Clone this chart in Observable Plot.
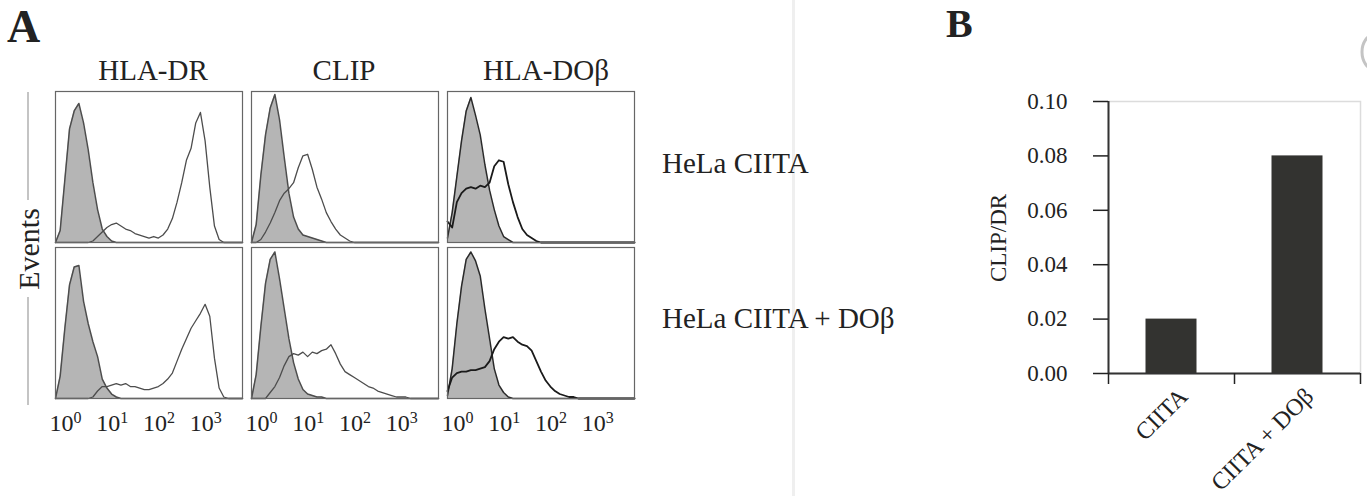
<!DOCTYPE html>
<html><head><meta charset="utf-8">
<script src="https://cdn.jsdelivr.net/npm/d3@7"></script>
<script src="https://cdn.jsdelivr.net/npm/@observablehq/plot@0.6"></script>
<style>
html,body{margin:0;padding:0;background:#fff;}
#root{position:relative;width:1367px;height:496px;overflow:hidden;font-family:"Liberation Serif","Times New Roman",serif;color:#222;}
#root svg{position:absolute;}
</style></head><body><div id="root"></div>
<script>
// ---------- DATA ----------
// histogram bin positions, in decades (log10 of fluorescence)
const bins = [0.0,0.1,0.2,0.3,0.4,0.5,0.6,0.7,0.8,0.9,1.0,1.1,1.2,1.3,1.4,1.5,1.6,1.7,1.8,1.9,2.0,2.1,2.2,2.3,2.4,2.5,2.6,2.7,2.8,2.9,3.0,3.1,3.2,3.3,3.4,3.5,3.6,3.7,3.8,3.9,4.0];
const markers = ["HLA-DR", "CLIP", "HLA-DOβ"];
const cellLines = ["HeLa CIITA", "HeLa CIITA + DOβ"];
const xTickExponents = [0, 1, 2, 3];

// events (% of max) — isotype control (filled) and specific stain (open)
const isoDR_CIITA    = [0,8,42,76,88,93,80,62,40,22, 9,4,1,0,0,0,0,0,0,0, 0,0,0,0,0,0,0,0,0,0, 0,0,0,0,0,0,0,0,0,0, 0];
const stainDR_CIITA  = [0,0,0,0,0,0,0,0,1,4, 7,10,12,13,11,9,8,6,5,4, 3,4,3,5,9,16,27,40,55,63, 80,87,68,37,11,2,0,0,0,0, 0];
const isoCLIP_CIITA  = [0,12,45,72,90,99,82,57,33,17, 9,5,4,3,2,1,0,0,0,0, 0,0,0,0,0,0,0,0,0,0, 0,0,0,0,0,0,0,0,0,0, 0];
const stainCLIP_CIITA= [0,0,2,7,13,20,28,33,36,40, 50,58,59,49,37,29,20,14,9,5, 3,1,0,0,0,0,0,0,0,0, 0,0,0,0,0,0,0,0,0,0, 0];
const isoDO_CIITA    = [3,20,44,68,88,97,85,72,52,35, 22,11,4,2,0,0,0,0,0,0, 0,0,0,0,0,0,0,0,0,0, 0,0,0,0,0,0,0,0,0,0, 0];
const stainDO_CIITA  = [14,10,27,33,36,37,36,38,37,40, 51,55,54,39,27,17,9,5,3,1, 0,0,0,0,0,0,0,0,0,0, 0,0,0,0,0,0,0,0,0,0, 0];
const isoDR_DOB      = [0,15,47,76,88,89,65,50,38,28, 13,7,3,1,0,0,0,0,0,0, 0,0,0,0,0,0,0,0,0,0, 0,0,0,0,0,0,0,0,0,0, 0];
const stainDR_DOB    = [0,0,0,0,0,0,0,0,1,5, 8,8,9,10,9,10,8,8,7,6, 6,7,8,10,13,17,25,33,40,47, 52,57,63,55,27,7,1,0,0,0, 0];
const isoCLIP_DOB    = [0,16,48,77,93,98,80,60,40,24, 13,6,3,2,1,1,0,0,0,0, 0,0,0,0,0,0,0,0,0,0, 0,0,0,0,0,0,0,0,0,0, 0];
const stainCLIP_DOB  = [0,0,0,0,4,8,14,22,28,30, 29,31,28,31,30,32,33,36,30,23, 18,16,14,12,10,8,7,5,4,3, 2,1,1,1,0,0,0,0,0,0, 0];
const isoDO_DOB      = [2,20,50,75,93,98,92,82,60,40, 20,9,4,1,0,0,0,0,0,0, 0,0,0,0,0,0,0,0,0,0, 0,0,0,0,0,0,0,0,0,0, 0];
const stainDO_DOB    = [5,14,17,18,18,19,19,20,21,25, 33,38,41,40,41,38,36,35,32,25, 18,12,8,5,3,2,1,1,0,0, 0,0,0,0,0,0,0,0,0,0, 0];

// panel B
const barCategories = ["CIITA", "CIITA + DOβ"];
const barValues = [0.02, 0.08];
const yTicks = [0, 0.02, 0.04, 0.06, 0.08, 0.10];

// ---------- LAYOUT ----------
const root = document.getElementById("root");
const FONT = '"Liberation Serif","Times New Roman",serif';
const NS = "http://www.w3.org/2000/svg";

const panels = [
  {col:0,row:0,iso:isoDR_CIITA,stain:stainDR_CIITA},
  {col:1,row:0,iso:isoCLIP_CIITA,stain:stainCLIP_CIITA},
  {col:2,row:0,iso:isoDO_CIITA,stain:stainDO_CIITA},
  {col:0,row:1,iso:isoDR_DOB,stain:stainDR_DOB},
  {col:1,row:1,iso:isoCLIP_DOB,stain:stainCLIP_DOB},
  {col:2,row:1,iso:isoDO_DOB,stain:stainDO_DOB}
];
const boxLeft = [55, 251, 447], boxTop = [91, 247], W = 187, H = 151;

for (const p of panels) {
  const rows = bins.map((b, i) => ({x: 10 ** b, iso: p.iso[i], stain: p.stain[i]}));
  const bottom = p.row === 1;
  const mb = bottom ? 44 : 1;
  const dark = p.col === 2;
  const marks = [
    Plot.areaY(rows, {x: "x", y: "iso", fill: "#b5b5b5"}),
    Plot.lineY(rows, {x: "x", y: "iso", stroke: dark ? "#2a2a2a" : "#4d4d4d", strokeWidth: 1.5}),
    Plot.lineY(rows, {x: "x", y: "stain", stroke: dark ? "#1a1a1a" : "#4d4d4d", strokeWidth: dark ? 1.8 : 1.3}),
    Plot.frame({stroke: "#666", strokeWidth: 1.2})
  ];
  if (bottom) marks.push(Plot.axisX({
    ticks: xTickExponents.map(e => 10 ** e), tickSize: 0, tickPadding: 15,
    textAnchor: "start", dx: -6, label: null, fill: "#222", fontSize: 24,
    tickFormat: d => "10^" + Math.round(Math.log10(d))
  }));
  const svg = Plot.plot({
    width: W + 2, height: H + 1 + mb,
    marginLeft: 1, marginRight: 1, marginTop: 1, marginBottom: mb,
    x: {type: "log", domain: [1, 1e4], axis: bottom ? undefined : null, label: null},
    y: {domain: [0, 101], axis: null},
    style: {fontFamily: FONT, fontSize: "24px", background: "transparent", overflow: "visible"},
    marks
  });
  svg.querySelectorAll('g[aria-label="x-axis tick label"] text').forEach(t => {
    const [base, exp] = t.textContent.split("^");
    t.textContent = base;
    const sup = document.createElementNS(NS, "tspan");
    sup.setAttribute("dy", "-0.45em");
    sup.setAttribute("font-size", "16px");
    sup.textContent = exp;
    t.appendChild(sup);
  });
  svg.style.left = (boxLeft[p.col] - 1) + "px";
  svg.style.top = (boxTop[p.row] - 1) + "px";
  root.appendChild(svg);
}

// ---------- PANEL B ----------
const barRows = barCategories.map((c, i) => ({category: c, value: barValues[i], i}));
const bsvg = Plot.plot({
  width: 407, height: 406,
  marginLeft: 148, marginTop: 11, marginRight: 7, marginBottom: 123,
  x: {domain: [0, 2], label: null},
  y: {domain: [0, 0.1], label: null},
  style: {fontFamily: FONT, fontSize: "23px", background: "transparent", overflow: "visible", color: "#222"},
  marks: [
    Plot.frame({stroke: "#dcdcdc", strokeWidth: 1.5}),
    Plot.rect(barRows, {x1: d => d.i, x2: d => d.i + 1, y1: () => 0, y2: "value", insetLeft: 37.5, insetRight: 37.5, fill: "#333330"}),
    Plot.ruleX([0], {stroke: "#333", strokeWidth: 2}),
    Plot.ruleY([0], {stroke: "#333", strokeWidth: 2}),
    Plot.axisY({ticks: yTicks, tickSize: 15, tickPadding: 26, tickFormat: d3.format(".2f"), label: null, strokeWidth: 1.5}),
    Plot.axisX({ticks: [0, 1, 2], tickSize: 11, tickFormat: () => "", label: null, strokeWidth: 1.5}),
    Plot.text(barRows, {x: d => d.i + 0.5, y: () => 0, text: "category", rotate: -45, textAnchor: "end", dx: 12, dy: 19, fontSize: 24, fill: "#222"})
  ]
});
bsvg.style.left = "960px";
bsvg.style.top = "90px";
root.appendChild(bsvg);

// ---------- TEXT OVERLAY ----------
const ov = document.createElementNS(NS, "svg");
ov.setAttribute("width", 1367); ov.setAttribute("height", 496);
ov.style.left = "0px"; ov.style.top = "0px";
ov.setAttribute("font-family", FONT);
ov.setAttribute("fill", "#222");
function txt(s, attrs) {
  const t = document.createElementNS(NS, "text");
  for (const k in attrs) t.setAttribute(k, attrs[k]);
  t.textContent = s;
  ov.appendChild(t);
}
function el(name, attrs) {
  const e = document.createElementNS(NS, name);
  for (const k in attrs) e.setAttribute(k, attrs[k]);
  ov.appendChild(e);
}
// scan artifacts
el("rect", {x: 792, y: 0, width: 3, height: 496, fill: "#efefef"});
el("ellipse", {cx: 1374, cy: 52, rx: 12, ry: 17, fill: "none", stroke: "#c4c4c4", "stroke-width": 3});

txt("A", {x: 7, y: 42, "font-size": 46, "font-weight": "bold"});
txt("B", {x: 946, y: 37, "font-size": 40, "font-weight": "bold"});
const titleX = [153, 344, 546];
markers.forEach((m, i) => txt(m, {x: titleX[i], y: 80, "font-size": 29, "text-anchor": "middle"}));
const rowY = [173, 328];
cellLines.forEach((c, i) => txt(c, {x: 662, y: rowY[i], "font-size": 29}));
txt("Events", {transform: "translate(39,249) rotate(-90)", "font-size": 30, "text-anchor": "middle"});
el("line", {x1: 28, x2: 28, y1: 92, y2: 200, stroke: "#b0b0b0", "stroke-width": 1.5});
el("line", {x1: 28, x2: 28, y1: 297, y2: 405, stroke: "#b0b0b0", "stroke-width": 1.5});
txt("CLIP/DR", {transform: "translate(1006,238) rotate(-90)", "font-size": 23, "text-anchor": "middle"});
root.appendChild(ov);
</script></body></html>
